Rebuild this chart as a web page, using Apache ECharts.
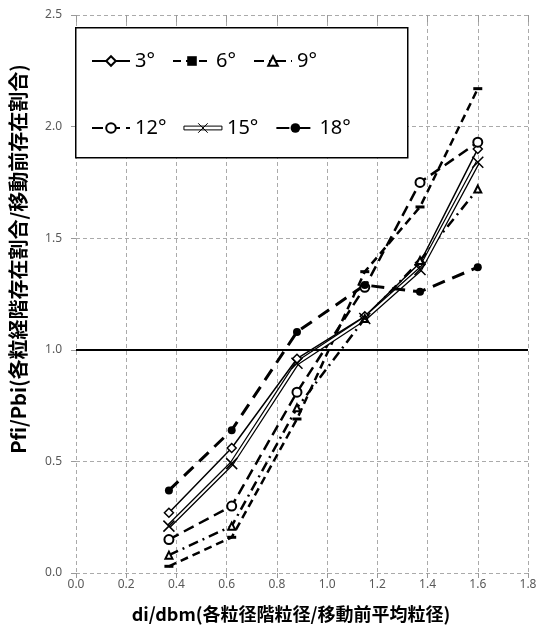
<!DOCTYPE html>
<html>
<head>
    <meta charset="utf-8">
    <title>Pfi/Pbi</title>
    <script src="https://cdn.jsdelivr.net/npm/echarts@6/dist/echarts.min.js"></script>
    <style>
        html, body { margin: 0; padding: 0; background: #fff; }
        #chart1 { width: 545px; height: 634px; }
    </style>
</head>
<body>
<div id="chart1"></div>
<script type="text/javascript">
    // x位置 (di/dbm)
    var xs = [0.37, 0.62, 0.88, 1.15, 1.37, 1.6];
    // 各角度の Pfi/Pbi
    var y3  = [0.27, 0.56, 0.96, 1.15, 1.39, 1.90];
    var y6  = [0.03, 0.16, 0.69, 1.35, 1.64, 2.17];
    var y9  = [0.08, 0.21, 0.74, 1.14, 1.40, 1.72];
    var y12 = [0.15, 0.30, 0.81, 1.28, 1.75, 1.93];
    var y15 = [0.21, 0.49, 0.94, 1.14, 1.36, 1.84];
    var y18 = [0.37, 0.64, 1.08, 1.29, 1.26, 1.37];
    var row1 = ['3°', '6°', '9°'];
    var row2 = ['12°', '15°', '18°'];

    function pts(ys) {
        return xs.map(function (x, i) { return [x, ys[i]]; });
    }

    var xPath = 'path://M0,0L10,10M10,0L0,10';
    var font = 'Noto Sans, sans-serif';
    var cjk = '"Noto Sans CJK JP", sans-serif';
    var gridLine = { show: true, lineStyle: { color: '#aaa', type: [4, 3], width: 1 } };

    var legendBase = {
        itemWidth: 38,
        itemHeight: 12,
        itemGap: 17,
        padding: 0,
        z: 6,
        textStyle: { fontSize: 20, color: '#000', fontFamily: font, width: 50 }
    };

    var myChart = echarts.init(document.getElementById('chart1'));
    myChart.setOption({
        animation: false,
        color: ['#000'],
        grid: { left: 73, right: 17, top: 15, bottom: 61 },
        graphic: [{
            type: 'rect', left: 75, top: 27, z: 5,
            shape: { width: 332, height: 130 },
            style: { fill: '#fff', stroke: '#000', lineWidth: 1.5 }
        }],
        legend: [
            Object.assign({}, legendBase, { left: 91, top: 51, data: row1 }),
            Object.assign({}, legendBase, {
                left: 91, top: 118,
                data: [row2[0], {
                    name: row2[1],
                    icon: 'path://M0,3L40,3L40,7L0,7Z M15,0L25,10 M25,0L15,10',
                    itemStyle: { color: '#fff', borderColor: '#000', borderWidth: 1 }
                }, row2[2]]
            })
        ],
        xAxis: [{
            type: 'value', min: 0, max: 1.8, interval: 0.2,
            name: 'di/dbm(各粒径階粒径/移動前平均粒径)',
            nameLocation: 'middle', nameGap: 32,
            nameTextStyle: { fontSize: 18, fontWeight: 'bold', color: '#000', fontFamily: cjk,
                padding: [0, 22, 0, 0] },
            axisLine: { show: false },
            axisTick: { show: true, length: 5, lineStyle: { color: '#999' } },
            axisLabel: { color: '#595959', fontSize: 12, fontFamily: font, margin: 6,
                formatter: function (v) { return v.toFixed(1); } },
            splitLine: gridLine
        }, {
            type: 'value', min: 0, max: 1.8, interval: 0.2, position: 'top',
            axisLine: { show: false },
            axisTick: { show: true, inside: true, length: 7, lineStyle: { color: '#999' } },
            axisLabel: { show: false },
            splitLine: { show: false }
        }],
        yAxis: {
            type: 'value', min: 0, max: 2.5, interval: 0.5,
            name: 'Pfi/Pbi(各粒経階存在割合/移動前存在割合)',
            nameLocation: 'middle', nameGap: 48,
            nameTextStyle: { fontSize: 20, fontWeight: 'bold', color: '#000', fontFamily: cjk,
                padding: [0, 0, 0, 70] },
            axisLine: { show: false },
            axisTick: { show: true, length: 5, lineStyle: { color: '#999' } },
            axisLabel: { color: '#595959', fontSize: 12, fontFamily: font, margin: 14,
                formatter: function (v) { return v.toFixed(1); } },
            splitLine: gridLine
        },
        series: [
            {
                name: '3°', type: 'line', data: pts(y3),
                symbol: 'diamond', symbolSize: 9,
                itemStyle: { color: '#fff', borderColor: '#000', borderWidth: 1.5 },
                lineStyle: { color: '#000', width: 1.5 },
                markLine: {
                    silent: true, symbol: 'none', label: { show: false },
                    lineStyle: { color: '#000', width: 2, type: 'solid' },
                    data: [{ yAxis: 1 }]
                }
            },
            {
                name: '6°', type: 'line', data: pts(y6),
                symbol: 'rect', symbolSize: [9, 3],
                itemStyle: { color: '#000' },
                lineStyle: { color: '#000', width: 2.5, type: [8, 5] }
            },
            {
                name: '9°', type: 'line', data: pts(y9),
                symbol: 'emptyTriangle', symbolSize: 7,
                itemStyle: { color: '#000', borderWidth: 1.5 },
                lineStyle: { color: '#000', width: 2.5, type: [10, 5, 2, 5] }
            },
            {
                name: '12°', type: 'line', data: pts(y12),
                symbol: 'emptyCircle', symbolSize: 9,
                itemStyle: { color: '#000', borderWidth: 1.5 },
                lineStyle: { color: '#000', width: 2.5, type: [11, 6] }
            },
            {
                name: '15°', type: 'line', data: pts(y15),
                symbol: 'none',
                lineStyle: { color: '#000', width: 4.5 }
            },
            {
                name: '15°inner', type: 'line', data: pts(y15),
                symbol: 'none',
                lineStyle: { color: '#fff', width: 2 }
            },
            {
                name: '15°mark', type: 'line', data: pts(y15),
                symbol: xPath, symbolSize: 11,
                itemStyle: { color: 'none', borderColor: '#000', borderWidth: 1.5 },
                lineStyle: { width: 0 }
            },
            {
                name: '18°', type: 'line', data: pts(y18),
                symbol: 'circle', symbolSize: 8,
                itemStyle: { color: '#000' },
                lineStyle: { color: '#000', width: 3, type: [13, 8] }
            }
        ]
    });
</script>
</body>
</html>
